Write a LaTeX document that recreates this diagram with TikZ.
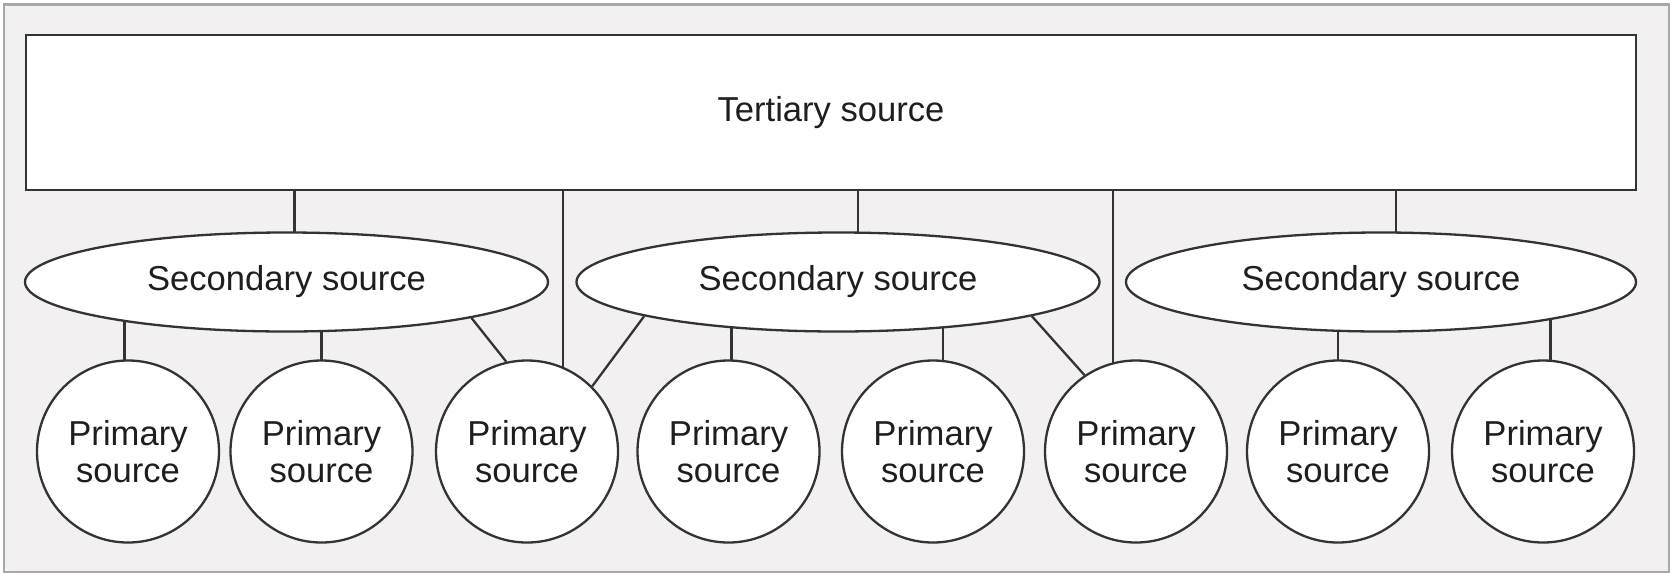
\documentclass[tikz,border=0pt]{standalone}
\usepackage{fontspec}
\setmainfont{Liberation Sans}
\usetikzlibrary{shapes.geometric}
\definecolor{linec}{HTML}{333333}
\definecolor{textc}{HTML}{1E1E1E}
\definecolor{framec}{HTML}{A8A8A8}
\definecolor{bgc}{HTML}{F2F0F1}
\pgfdeclarelayer{back}
\pgfdeclarelayer{bg}
\pgfsetlayers{back,bg,main}
\begin{document}
\begin{tikzpicture}[x=1pt,y=-1pt,
  every node/.style={font=\fontsize{34.6}{37}\selectfont, text=textc},
  conn/.style={draw=linec, line width=2.3pt},
  tert/.style={draw=linec, fill=white, line width=2.3pt, rectangle, minimum width=1610pt, minimum height=155pt, inner sep=0pt},
  sec/.style={draw=linec, fill=white, line width=2.3pt, ellipse, minimum height=99pt, inner sep=0pt},
  prim/.style={draw=linec, fill=white, line width=2.3pt, circle, minimum size=182pt, inner sep=0pt, align=center}
]
\useasboundingbox (0,0) rectangle (1675,576);
\begin{pgfonlayer}{back}
  \draw[draw=framec, fill=bgc, line width=2.5pt] (4,4.5) rectangle (1669,572);
\end{pgfonlayer}

\node[tert] (T) at (831,112.7) {Tertiary source};

\node[sec, minimum width=523pt] (E1) at (286.5,282) {Secondary source};
\node[sec, minimum width=523pt] (E2) at (838,282) {Secondary source};
\node[sec, minimum width=510pt] (E3) at (1381,282) {Secondary source};

\node[prim] (C1) at (128,451.5) {Primary\\source};
\node[prim] (C2) at (321.5,451.5) {Primary\\source};
\node[prim] (C3) at (527,451.5) {Primary\\source};
\node[prim] (C4) at (728.5,451.5) {Primary\\source};
\node[prim] (C5) at (933,451.5) {Primary\\source};
\node[prim] (C6) at (1136,451.5) {Primary\\source};
\node[prim] (C7) at (1338,451.5) {Primary\\source};
\node[prim] (C8) at (1543,451.5) {Primary\\source};

\begin{pgfonlayer}{bg}
  % tertiary to secondary
  \draw[conn] ([xshift=8pt]E1.center) -- ([xshift=8pt]E1.center |- T.center);
  \draw[conn] ([xshift=20pt]E2.center) -- ([xshift=20pt]E2.center |- T.center);
  \draw[conn] ([xshift=15pt]E3.center) -- ([xshift=15pt]E3.center |- T.center);
  % tertiary to primary directly
  \draw[conn] ([xshift=36pt]C3.center) -- ([xshift=36pt]C3.center |- T.center);
  \draw[conn] ([xshift=-23pt]C6.center) -- ([xshift=-23pt]C6.center |- T.center);
  % secondary to primary
  \draw[conn] ([xshift=-3.5pt]C1.center) -- ([xshift=-3.5pt]C1.center |- E1.center);
  \draw[conn] (C2.center) -- (C2.center |- E1.center);
  \draw[conn] (C3.103) -- (E1.-11);
  \draw[conn] (C3.45) -- (E2.190);
  \draw[conn] ([xshift=3pt]C4.center) -- ([xshift=3pt]C4.center |- E2.center);
  \draw[conn] ([xshift=10pt]C5.center) -- ([xshift=10pt]C5.center |- E2.center);
  \draw[conn] (C6.124) -- (E2.-10);
  \draw[conn] (C7.center) -- (C7.center |- E3.center);
  \draw[conn] ([xshift=7.5pt]C8.center) -- ([xshift=7.5pt]C8.center |- E3.center);
\end{pgfonlayer}
\end{tikzpicture}
\end{document}
